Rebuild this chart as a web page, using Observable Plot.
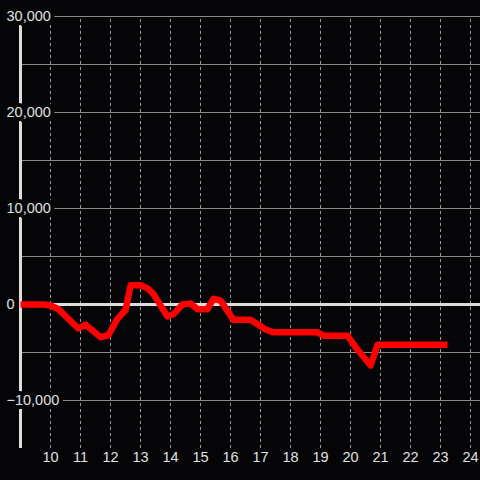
<!DOCTYPE html>
<html>
<head>
<meta charset="utf-8">
<script src="https://cdn.jsdelivr.net/npm/d3@7"></script>
<script src="https://cdn.jsdelivr.net/npm/@observablehq/plot@0.6"></script>
<style>
  html, body { margin: 0; padding: 0; background: #050407; }
  #chart svg { display: block; }
</style>
</head>
<body>
<div id="chart"></div>
<script>
const hours = [9.0, 9.8, 10.0, 10.27, 10.93, 11.17, 11.67, 11.93, 12.23, 12.5, 12.67, 13.0, 13.23, 13.43, 13.9, 14.1, 14.4, 14.67, 14.9, 15.23, 15.43, 15.67, 16.1, 16.67, 17.17, 17.43, 18.9, 19.1, 19.9, 20.17, 20.67, 20.9, 23.23];
const values = [0, 0, -100, -500, -2500, -2100, -3400, -3200, -1500, -600, 2000, 2000, 1700, 1100, -1250, -1000, 0, 100, -500, -500, 600, 400, -1600, -1600, -2600, -2900, -2900, -3250, -3250, -4450, -6350, -4200, -4200];
const xTicks = [10, 11, 12, 13, 14, 15, 16, 17, 18, 19, 20, 21, 22, 23, 24];
const yGrid = [-10000, -5000, 5000, 10000, 15000, 20000, 25000, 30000];
const yLabels = [-10000, 0, 10000, 20000, 30000];
const xDomain = [9, 24.333];
const yDomain = [-15000, 30000];

const data = hours.map((h, i) => ({h, v: values[i]}));
const fmt = d3.format(",");
const font = "Liberation Sans, Arial, sans-serif";

const chart = Plot.plot({
  width: 480,
  height: 480,
  marginTop: 16,
  marginBottom: 32,
  marginLeft: 20,
  marginRight: 0,
  style: {background: "#050407", color: "#dddddd", fontFamily: font, fontSize: "14.5px"},
  x: {domain: xDomain, axis: null},
  y: {domain: yDomain, axis: null},
  marks: [
    Plot.ruleX(xTicks, {x: d => d, y1: yDomain[0], y2: yDomain[1], stroke: "#9a9a9a", strokeWidth: 1, strokeDasharray: "3,3"}),
    Plot.ruleY(yGrid, {y: d => d, x1: xDomain[0], x2: xDomain[1], stroke: "#8a8a8a", strokeWidth: 1}),
    Plot.ruleY([0], {x1: xDomain[0], x2: xDomain[1], stroke: "#dddddd", strokeWidth: 3}),
    Plot.ruleX([xDomain[0]], {y1: yDomain[0], y2: yDomain[1], stroke: "#dddddd", strokeWidth: 3}),
    Plot.line(data, {x: "h", y: "v", stroke: "#ff0000", strokeWidth: 6.5, strokeLinejoin: "round", strokeLinecap: "butt"}),
    Plot.text(yLabels, {y: d => d, frameAnchor: "left", dx: -14, textAnchor: "start", text: d => fmt(d), fill: "#e0e0e0", stroke: "#050407", strokeWidth: 8, fontSize: 14.5}),
    Plot.text(xTicks, {x: d => d, frameAnchor: "bottom", dy: 13, text: d => String(d), fill: "#e0e0e0", fontSize: 14.5})
  ]
});
document.getElementById("chart").appendChild(chart);
</script>
</body>
</html>
